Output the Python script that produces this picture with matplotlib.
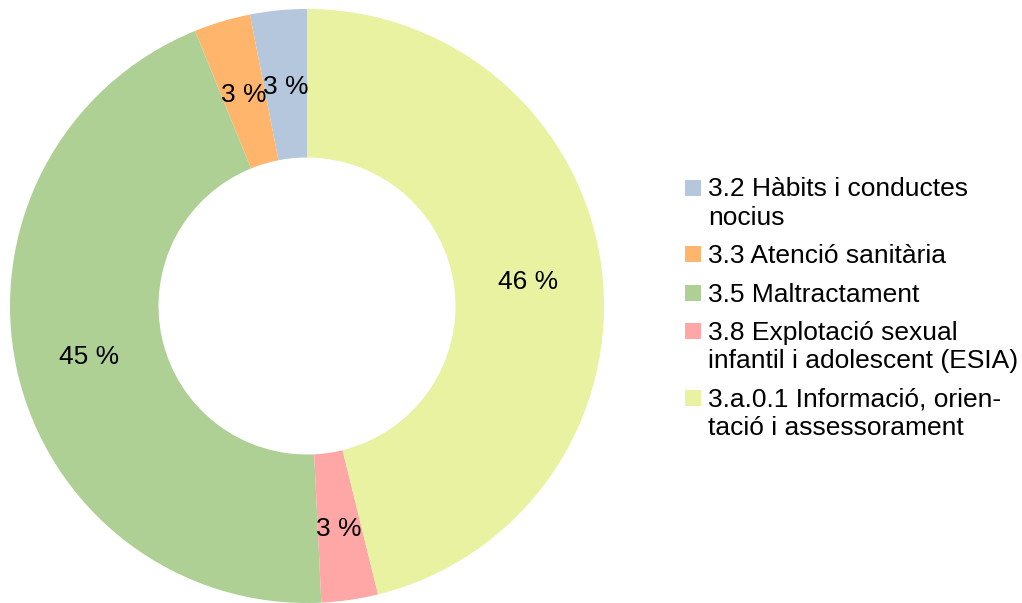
import matplotlib
matplotlib.use("Agg")
import matplotlib.pyplot as plt
from matplotlib.patches import Rectangle

plt.rcParams['font.family'] = ['Liberation Sans', 'DejaVu Sans']

# ---------- data ----------
categories = [
    "3.2 Hàbits i conductes\nnocius",
    "3.3 Atenció sanitària",
    "3.5 Maltractament",
    "3.8 Explotació sexual\ninfantil i adolescent (ESIA)",
    "3.a.0.1 Informació, orien-\ntació i assessorament",
]
counts = [2, 2, 29, 2, 30]
colors = ["#b4c7dc", "#ffb66c", "#afd095", "#ffa6a6", "#e8f2a1"]

W, H = 1022, 603
FS = 19.0


def px(x, y):
    # pixel from top-left -> figure fraction
    return x / W, 1 - y / H


fig = plt.figure(figsize=(W / 100, H / 100), dpi=100)
ax = fig.add_axes([10 / W, 0, 594 / W, 594 / H])
_, _, autotexts = ax.pie(counts, colors=colors, startangle=90, counterclock=True,
                         radius=1, wedgeprops=dict(width=0.5, linewidth=0),
                         pctdistance=0.75, autopct=lambda p: f"{p:.0f} %",
                         textprops=dict(fontsize=FS, color='black'))
for t in autotexts:
    t.set_va('center_baseline')
ax.set_xlim(-1, 1)
ax.set_ylim(-1, 1)
ax.set_aspect('equal')
ax.axis('off')

# ---------- legend (drawn by hand so the swatch sits on the first line) ----------
y = 196.5
for lab, col in zip(categories, colors):
    lines = lab.split("\n")
    fig.patches.append(Rectangle(px(685, y - 1), 16 / W, 16 / H,
                                 transform=fig.transFigure,
                                 facecolor=col, edgecolor='none'))
    for j, line in enumerate(lines):
        fig.text(*px(708, y + j * 28.2), line, fontsize=FS,
                 ha='left', va='baseline')
    y += (len(lines) - 1) * 28.2 + 38.5

fig.savefig("out.png", dpi=100)
